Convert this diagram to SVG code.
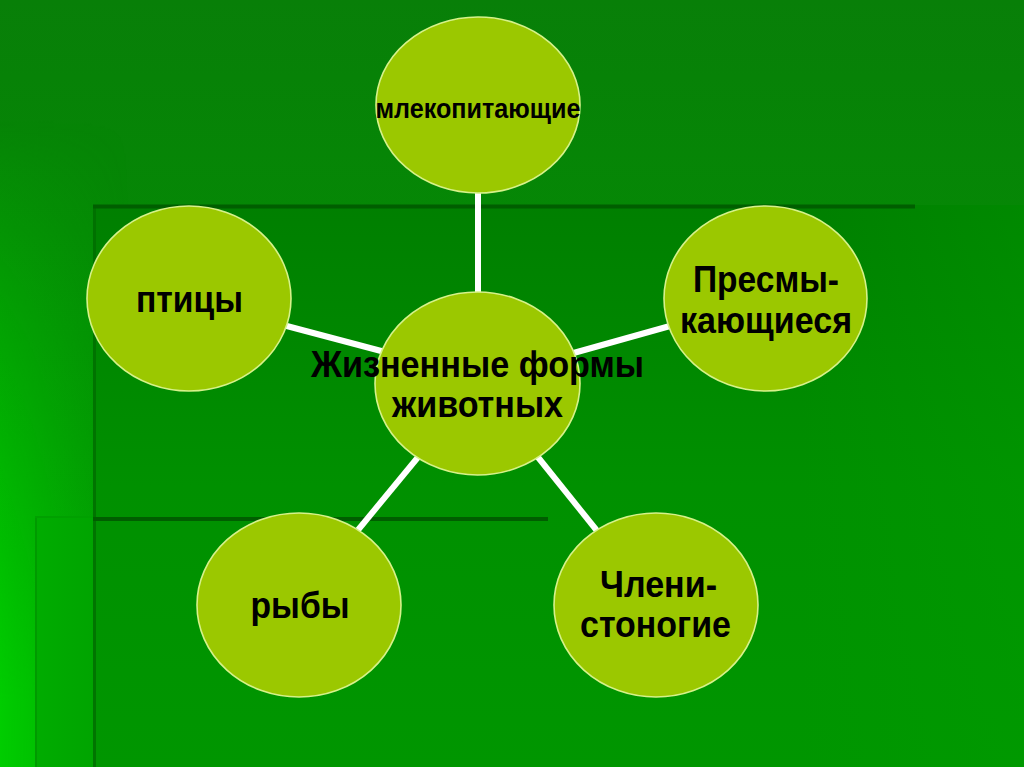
<svg xmlns="http://www.w3.org/2000/svg" width="1024" height="767" viewBox="0 0 1024 767">
  <defs>
    <linearGradient id="bgV" x1="0" y1="0" x2="0" y2="767" gradientUnits="userSpaceOnUse">
      <stop offset="0" stop-color="#087f08"/>
      <stop offset="0.3" stop-color="#058805"/>
      <stop offset="1" stop-color="#00a400"/>
    </linearGradient>
    <linearGradient id="leftGlow" x1="0" y1="0" x2="130" y2="0" gradientUnits="userSpaceOnUse">
      <stop offset="0" stop-color="#00d400" stop-opacity="0.85"/>
      <stop offset="1" stop-color="#00d400" stop-opacity="0"/>
    </linearGradient>
    <linearGradient id="fadeTop" x1="0" y1="120" x2="0" y2="700" gradientUnits="userSpaceOnUse">
      <stop offset="0" stop-color="#000"/>
      <stop offset="1" stop-color="#fff"/>
    </linearGradient>
    <mask id="leftMask">
      <rect x="0" y="0" width="1024" height="767" fill="url(#fadeTop)"/>
    </mask>
    <linearGradient id="panelA" x1="0" y1="205" x2="0" y2="767" gradientUnits="userSpaceOnUse">
      <stop offset="0" stop-color="#007f00"/>
      <stop offset="0.5" stop-color="#009000"/>
      <stop offset="1" stop-color="#009600"/>
    </linearGradient>
    <linearGradient id="panelAR" x1="800" y1="0" x2="1024" y2="0" gradientUnits="userSpaceOnUse">
      <stop offset="0" stop-color="#00a000" stop-opacity="0"/>
      <stop offset="1" stop-color="#00a000" stop-opacity="0.3"/>
    </linearGradient>
    <linearGradient id="panelB" x1="35" y1="0" x2="93" y2="0" gradientUnits="userSpaceOnUse">
      <stop offset="0" stop-color="#00ac00"/>
      <stop offset="1" stop-color="#00a400"/>
    </linearGradient>
    <style>
      .node ellipse { fill: #9bc800; stroke: #d6f28a; stroke-width: 1.6; }
      .node text { font-family: "Liberation Sans", Arial, sans-serif; font-weight: bold; fill: #000; text-anchor: middle; }
      .big { font-size: 37px; }
      .small { font-size: 27px; }
      #connectors line { stroke: #ffffff; stroke-width: 6; stroke-linecap: butt; }
    </style>
  </defs>

  <!-- background -->
  <rect x="0" y="0" width="1024" height="767" fill="url(#bgV)"/>
  <rect x="0" y="0" width="140" height="767" fill="url(#leftGlow)" mask="url(#leftMask)"/>
  <!-- panel A -->
  <rect x="93" y="205" width="931" height="562" fill="url(#panelA)"/>
  <rect x="93" y="205" width="931" height="562" fill="url(#panelAR)"/>
  <!-- panel B left part -->
  <rect x="35" y="518" width="58" height="249" fill="url(#panelB)"/>
  <line x1="36" y1="518" x2="36" y2="767" stroke="#009a00" stroke-width="2"/>
  <line x1="94.5" y1="205" x2="94.5" y2="767" stroke="#006e00" stroke-width="3" opacity="0.8"/>
  <line x1="93" y1="206.5" x2="915" y2="206.5" stroke="#005e00" stroke-width="4"/>
  <line x1="93" y1="519" x2="548" y2="519" stroke="#005e00" stroke-width="4"/>
  <line x1="35" y1="517" x2="93" y2="517" stroke="#00a000" stroke-width="2"/>

  <g id="connectors">
    <line x1="478" y1="190" x2="478" y2="295"/>
    <line x1="283" y1="325" x2="385" y2="352"/>
    <line x1="670" y1="326" x2="570" y2="354"/>
    <line x1="419" y1="456" x2="358" y2="530"/>
    <line x1="537" y1="456" x2="598" y2="532"/>
  </g>

  <g id="node-mammals" class="node">
    <ellipse cx="478" cy="105" rx="102" ry="88"/>
    <text class="small" x="478" y="118" textLength="205" lengthAdjust="spacingAndGlyphs">млекопитающие</text>
  </g>
  <g id="node-birds" class="node">
    <ellipse cx="189" cy="298.5" rx="102" ry="92.5"/>
    <text class="big" x="189.5" y="312" textLength="107" lengthAdjust="spacingAndGlyphs">птицы</text>
  </g>
  <g id="node-reptiles" class="node">
    <ellipse cx="765.5" cy="298.5" rx="101.5" ry="92.5"/>
    <text class="big" x="766" y="292" textLength="146" lengthAdjust="spacingAndGlyphs">Пресмы-</text>
    <text class="big" x="766" y="333" textLength="172" lengthAdjust="spacingAndGlyphs">кающиеся</text>
  </g>
  <g id="node-center" class="node">
    <ellipse cx="477.5" cy="383.5" rx="102.5" ry="91.5"/>
    <text class="big" x="477.5" y="377" textLength="333" lengthAdjust="spacingAndGlyphs">Жизненные формы</text>
    <text class="big" x="477.5" y="417" textLength="171" lengthAdjust="spacingAndGlyphs">животных</text>
  </g>
  <g id="node-fish" class="node">
    <ellipse cx="299" cy="605" rx="102" ry="92"/>
    <text class="big" x="300" y="618" textLength="99" lengthAdjust="spacingAndGlyphs">рыбы</text>
  </g>
  <g id="node-arthropods" class="node">
    <ellipse cx="656" cy="605" rx="102" ry="92"/>
    <text class="big" x="658.5" y="597" textLength="117" lengthAdjust="spacingAndGlyphs">Члени-</text>
    <text class="big" x="655.5" y="637" textLength="151" lengthAdjust="spacingAndGlyphs">стоногие</text>
  </g>
</svg>
